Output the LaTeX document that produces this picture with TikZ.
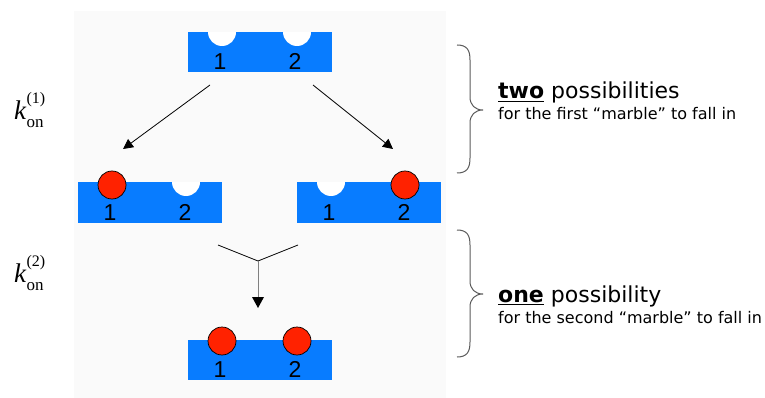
\documentclass[tikz,border=0pt]{standalone}
\usepackage{fontspec}
\usetikzlibrary{arrows.meta}
\newfontfamily\vfont{DejaVu Sans}
\newfontfamily\afont{Liberation Sans}
\newfontfamily\tfont{Liberation Serif}
\definecolor{trayblue}{RGB}{8,124,255}
\definecolor{ballred}{RGB}{255,34,0}
\definecolor{panel}{RGB}{250,250,250}
\definecolor{bracegray}{RGB}{90,90,90}
\tikzset{
  tray/.style={fill=trayblue, draw=none, minimum width=144pt, minimum height=40pt, inner sep=0pt},
  ball/.style={circle, fill=ballred, draw=black, line width=0.7pt, minimum size=28pt, inner sep=0pt},
  num/.style={font=\afont\fontsize{23}{23}\selectfont, inner sep=0pt, anchor=base},
  arr/.style={draw=black, line width=0.8pt, -{Triangle[length=10pt,width=10pt]}},
  brace/.style={draw=bracegray, line width=1pt},
  bigtxt/.style={font=\vfont\fontsize{22}{22}\selectfont, anchor=base west, inner sep=0pt},
  smalltxt/.style={font=\vfont\fontsize{16}{16}\selectfont, anchor=base west, inner sep=0pt},
  klab/.style={font=\tfont\fontsize{27}{27}\selectfont, anchor=base west, inner sep=0pt}
}
\newcommand{\notch}[2]{\fill[white] (#1-14,#2) arc (180:0:14) -- cycle;}
\begin{document}
\begin{tikzpicture}[x=1pt,y=-1pt]
\useasboundingbox (0,0) rectangle (765,398);
\fill[panel] (74,11) rectangle (446,398);

% top tray
\node[tray] (t1) at (260,52) {};
\notch{222}{32}\notch{297}{32}
\node[num] (t1a) at (220,70) {1};
\node[num] (t1b) at (295,70) {2};

% left tray
\node[tray] (t2) at (149.5,202.5) {};
\notch{186}{182}
\node[ball] (b2) at (112,185) {};
\node[num] (t2a) at (110,220) {1};
\node[num] (t2b) at (185,220) {2};

% right tray
\node[tray] (t3) at (368.5,202.5) {};
\notch{331}{182}
\node[ball] (b3) at (405,185) {};
\node[num] (t3a) at (329,220) {1};
\node[num] (t3b) at (404,220) {2};

% bottom tray
\node[tray] (t4) at (260,359.5) {};
\node[ball] (b4a) at (222,341) {};
\node[ball] (b4b) at (297,341) {};
\node[num] (t4a) at (220,377) {1};
\node[num] (t4b) at (295,377) {2};

% arrows
\coordinate (a1s) at (210,85);
\coordinate (a1e) at (123,149);
\coordinate (a2s) at (313,85);
\coordinate (a2e) at (393,149);
\draw[arr] (a1s) -- (a1e);
\draw[arr] (a2s) -- (a2e);

\coordinate (yl) at (218,245);
\coordinate (yr) at (298,245);
\coordinate (yj) at (258,261);
\coordinate (yt) at (258,308);
\draw[line width=0.8pt] (yl) -- (yj) -- (yr);
\draw[line width=0.9pt, draw=gray] (yj) -- (258,298);
\fill[black] (252,297) -- (264,297) -- (yt) -- cycle;

% braces
\draw[brace] (457,45) .. controls (467,45) and (470,50) .. (470,60) -- (470,97)
  .. controls (470,105) and (475,110) .. (483,110)
  .. controls (475,110) and (470,115) .. (470,123) -- (470,158)
  .. controls (470,168) and (467,173) .. (457,173);
\draw[brace] (457,230) .. controls (467,230) and (470,235) .. (470,245) -- (470,281)
  .. controls (470,289) and (475,294) .. (483,294)
  .. controls (475,294) and (470,299) .. (470,307) -- (470,342)
  .. controls (470,352) and (467,357) .. (457,357);

% texts
\node[bigtxt] (tx1) at (498,99) {\underline{\textbf{two}} possibilities};
\node[smalltxt] (tx2) at (498,120) {for the first “marble” to fall in};
\node[bigtxt] (tx3) at (498,302) {\underline{\textbf{one}} possibility};
\node[smalltxt] (tx4) at (498,323) {for the second “marble” to fall in};

% k labels
\node[klab] (k1) at (14,120) {\textit{k}\rlap{\raisebox{16pt}{\fontsize{16}{16}\selectfont (1)}}\raisebox{-8pt}{\fontsize{17}{17}\selectfont on}};
\node[klab] (k2) at (14,282) {\textit{k}\rlap{\raisebox{16pt}{\fontsize{16}{16}\selectfont (2)}}\raisebox{-8pt}{\fontsize{17}{17}\selectfont on}};
\end{tikzpicture}
\end{document}
